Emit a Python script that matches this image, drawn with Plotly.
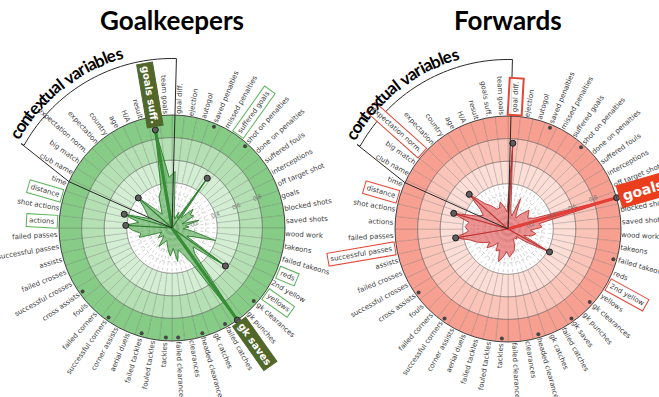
import math
import numpy as np
import plotly.graph_objects as go

# ---------------- data ----------------
categories = [
    "goal diff.", "ejection", "autogol", "saved penalties", "missed penalties",
    "suffered goals", "shot on penalties", "done on penalties", "suffered fouls",
    "interceptions", "off target shot", "goals", "blocked shots", "saved shots",
    "wood work", "takeons", "failed takeons", "reds", "2nd yellow", "yellows",
    "gk clearances", "gk punches", "gk saves", "failed catches", "gk catches",
    "headed clearances", "clearances", "failed clearances", "tackles",
    "fouled tackles", "failed tackles", "aerial duels", "corner assists",
    "successful corners", "failed corners", "fouls", "cross assists",
    "successful crosses", "failed crosses", "assists", "successful passes",
    "failed passes", "actions", "shot actions", "distance", "time", "club name",
    "big match", "expectation norm.", "expectation", "country", "age", "H/A",
    "result", "goals suff.", "team goals",
]

gk_values = [
    0.50, 0.12, 0.08, 0.15, 0.10, 0.54, 0.12, 0.25, 0.20, 0.22,
    0.10, 0.25, 0.12, 0.15, 0.10, 0.20, 0.40, 0.20, 0.15, 0.58,
    0.25, 0.30, 1.00, 0.35, 0.25, 0.20, 0.30, 0.18, 0.25, 0.20,
    0.15, 0.12, 0.15, 0.20, 0.12, 0.10, 0.15, 0.12, 0.10, 0.30,
    0.28, 0.35, 0.41, 0.30, 0.44, 0.22, 0.25, 0.30, 0.40, 0.22,
    0.15, 0.20, 0.30, 0.35, 0.88, 0.45,
]

fw_values = [
    0.76, 0.15, 0.12, 0.29, 0.15, 0.12, 0.18, 0.25, 0.22, 0.20,
    0.25, 1.00, 0.28, 0.30, 0.20, 0.25, 0.22, 0.15, 0.42, 0.20,
    0.10, 0.12, 0.10, 0.10, 0.15, 0.20, 0.22, 0.25, 0.20, 0.25,
    0.30, 0.20, 0.22, 0.15, 0.20, 0.25, 0.20, 0.25, 0.30, 0.35,
    0.47, 0.35, 0.38, 0.35, 0.50, 0.30, 0.25, 0.30, 0.46, 0.30,
    0.25, 0.20, 0.20, 0.25, 0.20, 0.15,
]

gk_marked = ["suffered goals", "yellows", "distance", "actions", "expectation norm."]
gk_strong = ["goals suff.", "gk saves"]
gk_boxed = ["suffered goals", "distance", "actions", "reds", "yellows"]

fw_marked = ["goal diff.", "expectation norm.", "distance", "successful passes", "2nd yellow"]
fw_strong = ["goals"]
fw_boxed = ["goal diff.", "expectation norm.", "distance", "successful passes", "2nd yellow"]

gk_ring_marks = ["saved penalties", "shot on penalties", "gk clearances", "failed catches",
                 "headed clearances", "failed clearances", "tackles", "failed tackles",
                 "successful corners", "cross assists"]
fw_ring_marks = ["saved penalties", "shot on penalties", "failed takeons", "gk clearances",
                 "gk saves", "headed clearances", "tackles", "successful corners", "cross assists"]
ring_mark_value = 0.97

contextual = ["club name", "big match", "expectation norm.", "expectation", "country",
              "age", "H/A", "result", "goals suff.", "team goals"]

radial_ticks = [0.2, 0.4, 0.6, 0.8]
band_edges = [0.4, 0.6, 0.8, 1.0]
inner_grid = [0.1, 0.2, 0.3]

titles = ["Goalkeepers", "Forwards"]
context_title = "contextual variables"

# ---------------- geometry / style ----------------
W, H = 659, 397
R = 113.0
CENTERS = [(172.0, 228.0), (508.0, 229.0)]
N = len(categories)
STEP = 360.0 / N
theta = [(i + 0.5) * STEP for i in range(N)]
idx = {c: i for i, c in enumerate(categories)}
LABEL_FS = 7

green = dict(bands=["rgb(212,238,212)", "rgb(180,224,180)", "rgb(134,204,134)"],
             fill="rgba(78,168,78,0.62)", line="rgb(45,125,45)", strong="rgb(55,140,55)",
             label_fill="rgb(82,104,42)", box="rgb(90,180,90)")
red = dict(bands=["rgb(253,222,215)", "rgb(251,196,185)", "rgb(247,160,145)"],
           fill="rgba(226,96,96,0.68)", line="rgb(190,50,50)", strong="rgb(228,62,55)",
           label_fill="rgb(234,62,28)", box="rgb(228,70,55)")

CW = {'a': .613, 'b': .635, 'c': .55, 'd': .635, 'e': .615, 'f': .352, 'g': .635, 'h': .634,
      'i': .278, 'j': .278, 'k': .579, 'l': .278, 'm': .974, 'n': .634, 'o': .612, 'p': .635,
      'q': .635, 'r': .411, 's': .521, 't': .392, 'u': .634, 'v': .592, 'w': .818, 'x': .592,
      'y': .592, 'z': .525, ' ': .318, '.': .318, '/': .337, '2': .636, 'H': .752, 'A': .684}


def tw(s, fs, bold=False):
    return sum(CW.get(ch, .6) for ch in s) * fs * (1.08 if bold else 1.0)


def to_paper(cx, cy, rpx, phi):
    a = math.radians(phi)
    x = cx + rpx * math.sin(a)
    y = cy - rpx * math.cos(a)
    return x / W, 1 - y / H


def norm_angle(a):
    while a > 180:
        a -= 360
    while a <= -180:
        a += 360
    return a


fig = go.Figure()
annotations = []
shapes = []

charts = [
    (gk_values, gk_marked, gk_strong, gk_boxed, gk_ring_marks, green, "polar"),
    (fw_values, fw_marked, fw_strong, fw_boxed, fw_ring_marks, red, "polar2"),
]

for k, (vals, marked, strong, boxed, ring_marks, pal, sp) in enumerate(charts):
    cx, cy = CENTERS[k]
    # background bands
    for j in range(3):
        fig.add_trace(go.Barpolar(
            r=[band_edges[j + 1] - band_edges[j]] * N, base=[band_edges[j]] * N,
            theta=theta, width=[STEP] * N, subplot=sp, showlegend=False,
            marker=dict(color=pal["bands"][j], line=dict(color="rgba(80,80,80,0.35)", width=0.6)),
            hoverinfo="skip"))
    # inner dashed grid
    circ = np.linspace(0, 360, 241)
    for g in inner_grid:
        fig.add_trace(go.Scatterpolar(r=[g] * len(circ), theta=circ, mode="lines", subplot=sp,
                                      line=dict(color="rgba(110,110,110,0.6)", width=0.6, dash="dot"),
                                      showlegend=False, hoverinfo="skip"))
    sr, st = [], []
    for i in range(N):
        sr += [0.04, band_edges[0], None]
        st += [i * STEP, i * STEP, None]
    fig.add_trace(go.Scatterpolar(r=sr, theta=st, mode="lines", subplot=sp,
                                  line=dict(color="rgba(120,120,120,0.55)", width=0.6, dash="dot"),
                                  showlegend=False, hoverinfo="skip"))
    for e in band_edges[:-1]:
        fig.add_trace(go.Scatterpolar(r=[e] * len(circ), theta=circ, mode="lines", subplot=sp,
                                      line=dict(color="rgba(90,90,90,0.6)", width=0.7),
                                      showlegend=False, hoverinfo="skip"))
    # polygon
    fig.add_trace(go.Scatterpolar(r=vals + [vals[0]], theta=theta + [theta[0]], mode="lines",
                                  fill="toself", fillcolor=pal["fill"], subplot=sp,
                                  line=dict(color=pal["line"], width=0.9),
                                  showlegend=False, hoverinfo="skip"))
    # thin marker lines
    for c in marked:
        i = idx[c]
        fig.add_trace(go.Scatterpolar(r=[0, vals[i]], theta=[theta[i], theta[i]], mode="lines",
                                      subplot=sp, line=dict(color=pal["line"], width=1.1),
                                      showlegend=False, hoverinfo="skip"))
    for c in strong:
        i = idx[c]
        fig.add_trace(go.Scatterpolar(r=[0, vals[i]], theta=[theta[i], theta[i]], mode="lines",
                                      subplot=sp, line=dict(color=pal["strong"], width=3.2),
                                      showlegend=False, hoverinfo="skip"))
    mk = marked + strong
    fig.add_trace(go.Scatterpolar(r=[vals[idx[c]] for c in mk], theta=[theta[idx[c]] for c in mk],
                                  mode="markers", subplot=sp, cliponaxis=False,
                                  marker=dict(size=6, color="rgb(95,95,95)",
                                              line=dict(color="rgb(30,30,30)", width=1)),
                                  showlegend=False, hoverinfo="skip"))
    fig.add_trace(go.Scatterpolar(r=[ring_mark_value] * len(ring_marks),
                                  theta=[theta[idx[c]] for c in ring_marks],
                                  mode="markers", subplot=sp,
                                  marker=dict(size=4, color="rgb(70,70,70)"),
                                  showlegend=False, hoverinfo="skip"))

    # category labels
    for i, name in enumerate(categories):
        phi = theta[i]
        alpha = 90 - phi
        rot = alpha if phi < 180 else alpha + 180
        ta = norm_angle(-rot)
        if name in strong:
            big = (k == 1)
            fs = 14 if big else 10
            w = tw(name, fs, True)
            pad = 3 if big else 2
            r0 = R * 1.04 if big else (R * 0.93 if phi > 180 else R * 1.03)
            rc = r0 + pad + w / 2
            x, y = to_paper(cx, cy, rc, phi)
            annotations.append(dict(text="<b>%s</b>" % name, x=x, y=y, xref="paper", yref="paper",
                                    showarrow=False, textangle=ta, xanchor="center", yanchor="middle",
                                    font=dict(family="DejaVu Sans", size=fs, color="white"),
                                    bgcolor=pal["label_fill"], borderpad=pad,
                                    bordercolor=pal["label_fill"], borderwidth=1))
        else:
            fs = LABEL_FS
            w = tw(name, fs)
            boxed_here = name in boxed
            rc = R * 1.01 + (3 if boxed_here else 0) + w / 2
            x, y = to_paper(cx, cy, rc, phi)
            a = dict(text=name, x=x, y=y, xref="paper", yref="paper", showarrow=False,
                     textangle=ta, xanchor="center", yanchor="middle",
                     font=dict(family="DejaVu Sans", size=fs, color="rgb(60,60,60)"))
            if boxed_here:
                a.update(bordercolor=pal["box"], borderwidth=2 if (k == 1 and name == "goal diff.") else 1,
                         borderpad=2, bgcolor="rgba(255,255,255,0.85)")
            annotations.append(a)

    # contextual bracket
    phiL = idx[contextual[0]] * STEP - 360 - 1.5
    phiR = (idx[contextual[-1]] + 1) * STEP - 360 + 1.5
    pts = [(0, phiL), (R, phiL), (1.53 * R, phiL + 5)]
    for a in np.linspace(phiL + 5, phiR, 40):
        pts.append((1.5 * R, a))
    pts += [(R, phiR), (0, phiR)]
    path = ""
    for n_, (rp, a) in enumerate(pts):
        x, y = to_paper(cx, cy, rp, a)
        path += ("M" if n_ == 0 else " L") + " %.5f,%.5f" % (x, y)
    shapes.append(dict(type="path", path=path, xref="paper", yref="paper",
                       line=dict(color="rgb(40,40,40)", width=1), layer="above"))

    # curved label
    widths = [CW.get(ch, .6) for ch in context_title]
    total = sum(widths)
    a0, a1 = -60.0, -16.0
    rho = 183
    cum = 0
    for ch, wch in zip(context_title, widths):
        frac = (cum + wch / 2) / total
        cum += wch
        if ch == " ":
            continue
        phi = a0 + frac * (a1 - a0)
        x, y = to_paper(cx, cy, rho, phi)
        annotations.append(dict(text="<b>%s</b>" % ch, x=x, y=y, xref="paper", yref="paper",
                                showarrow=False, textangle=phi, xanchor="center", yanchor="middle",
                                font=dict(family="Lato", size=17, color="black")))

    # title
    annotations.append(dict(text="<b>%s</b>" % titles[k], x=cx / W, y=1 - 20 / H, xref="paper",
                            yref="paper", showarrow=False, xanchor="center", yanchor="middle",
                            font=dict(family="Lato", size=26, color="black")))


def polar_layout(k):
    cx, cy = CENTERS[k]
    return dict(
        domain=dict(x=[(cx - R) / W, (cx + R) / W], y=[(H - cy - R) / H, (H - cy + R) / H]),
        bgcolor="white",
        angularaxis=dict(direction="clockwise", rotation=90, showgrid=False, showticklabels=False,
                         ticks="", showline=True, linecolor="rgb(70,70,70)", linewidth=1),
        radialaxis=dict(range=[0, 1], angle=22.5, tickvals=radial_ticks,
                        ticktext=["%.1f" % t for t in radial_ticks],
                        tickfont=dict(size=6, color="rgb(110,110,110)"), showgrid=False,
                        showline=False, ticks=""),
    )


fig.update_layout(
    width=W, height=H, autosize=False, margin=dict(l=0, r=0, t=0, b=0),
    paper_bgcolor="white", plot_bgcolor="white",
    polar=polar_layout(0), polar2=polar_layout(1),
    annotations=annotations, shapes=shapes, showlegend=False,
)

fig.write_html("out.html")
